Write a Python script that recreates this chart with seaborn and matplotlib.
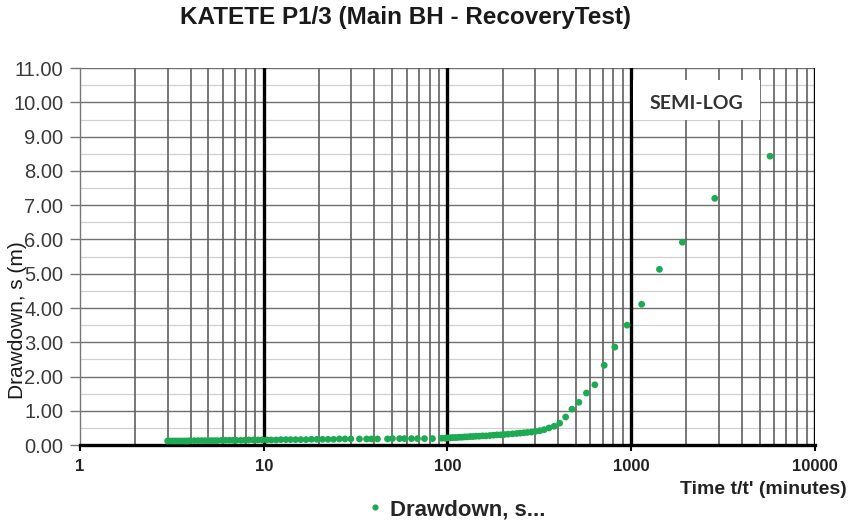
import numpy as np
import pandas as pd
import matplotlib
matplotlib.use("Agg")
import matplotlib.pyplot as plt
import seaborn as sns
from matplotlib.ticker import FixedLocator, NullFormatter
from matplotlib.patches import Rectangle
from matplotlib.lines import Line2D

# Recovery test readings: t/t' ratio (minutes) and residual drawdown s (m)
time_ratio = [
    3.0, 3.1, 3.2, 3.3, 3.4, 3.5, 3.6, 3.7, 3.8, 3.9, 4.0, 4.2, 4.4, 4.6, 4.8,
    5.0, 5.2, 5.4, 5.6, 5.9, 6.2, 6.5, 6.8, 7.1, 7.5, 7.9, 8.3, 8.8, 9.3, 9.8,
    10.4, 11.0, 11.7, 12.4, 13.2, 14.0, 14.9, 15.9, 17.0, 18.2, 19.5, 20.9,
    22.4, 24.0, 25.8, 27.7, 29.8,
    33.2, 36.3, 38.6, 41.6, 47.2, 50.2, 54.9, 58.4, 63.7, 68.7, 75.0, 82.9, 92.8,
    97, 100, 103, 106, 109, 112, 116, 120, 124, 128, 133, 138, 143, 149, 155,
    162, 170, 178, 186, 195, 204, 214, 226, 238, 249, 260, 272, 286, 301, 318,
    336, 357, 381, 408, 440, 476, 519, 571, 634, 713, 815, 950, 1140, 1425,
    1900, 2850, 5700,
]
drawdown = [
    0.12, 0.12, 0.12, 0.12, 0.12, 0.12, 0.12, 0.12, 0.12, 0.12, 0.13, 0.13, 0.13, 0.13, 0.13,
    0.13, 0.13, 0.13, 0.13, 0.14, 0.14, 0.14, 0.14, 0.14, 0.14, 0.14, 0.15, 0.15, 0.15, 0.15,
    0.15, 0.15, 0.15, 0.16, 0.16, 0.16, 0.16, 0.16, 0.16, 0.17, 0.17, 0.17,
    0.17, 0.17, 0.18, 0.18, 0.18,
    0.18, 0.18, 0.18, 0.18, 0.18, 0.19, 0.19, 0.19, 0.19, 0.19, 0.19, 0.19, 0.20,
    0.20, 0.21, 0.21, 0.22, 0.22, 0.22, 0.23, 0.23, 0.24, 0.24, 0.25, 0.25, 0.26, 0.26, 0.27,
    0.27, 0.28, 0.29, 0.30, 0.30, 0.31, 0.32, 0.33, 0.34, 0.35, 0.36, 0.37, 0.38, 0.40, 0.42,
    0.45, 0.50, 0.55, 0.64, 0.82, 1.05, 1.25, 1.52, 1.76, 2.33, 2.86, 3.50, 4.11, 5.13,
    5.92, 7.20, 8.43,
]

series_name = "Drawdown, s..."
title_text = "KATETE P1/3 (Main BH - RecoveryTest)"
x_label = "Time t/t' (minutes)"
y_label = "Drawdown, s (m)"
y_ticks = [0, 1, 2, 3, 4, 5, 6, 7, 8, 9, 10, 11]
x_ticks = [1, 10, 100, 1000, 10000]

df = pd.DataFrame({"t_ratio": time_ratio, "s": drawdown, "series": series_name})

sns.set_style("white")
plt.rcParams["font.family"] = ["Liberation Sans", "DejaVu Sans"]

fig = plt.figure(figsize=(8.48, 5.2), dpi=100)
ax = fig.add_axes([0.0943, 0.144, 0.8667, 0.725])

green = "#1daa52"
sns.scatterplot(data=df, x="t_ratio", y="s", hue="series", palette=[green],
                s=24, edgecolor="none", ax=ax, legend=False, zorder=5)

ax.set_xscale("log")
ax.set_xlim(1, 10000)
ax.set_ylim(0, 11)

# horizontal grid: whole metres dark, half metres light
for v in np.arange(0.5, 11, 1.0):
    ax.axhline(v, color="#d0d0d0", lw=0.9, zorder=1)
for v in y_ticks[1:]:
    ax.axhline(v, color="#707070", lw=1.0, zorder=1)

# vertical grid: intermediate log lines grey, decades black
for dec in [1, 10, 100, 1000]:
    for m in range(2, 10):
        ax.axvline(dec * m, color="#606060", lw=1.2, zorder=2)
for dec in [10, 100, 1000, 10000]:
    ax.axvline(dec, color="black", lw=2.4, zorder=3)

ax.yaxis.set_major_locator(FixedLocator(y_ticks))
ax.set_yticklabels([f"{v:.2f}" for v in y_ticks])
ax.xaxis.set_major_locator(FixedLocator(x_ticks))
ax.xaxis.set_minor_formatter(NullFormatter())
ax.xaxis.set_minor_locator(FixedLocator([]))
ax.set_xticklabels([str(v) for v in x_ticks])

ax.tick_params(axis="y", direction="out", length=7, width=1, color="#777777",
               labelsize=14.5, labelcolor="#3a3a3a", pad=5, left=True)
ax.tick_params(axis="x", direction="out", length=4, width=1.5, color="black",
               labelsize=12, pad=6, bottom=True)
for lab in ax.get_xticklabels():
    lab.set_fontweight("bold")
    lab.set_color("#222222")

for side in ["top", "right"]:
    ax.spines[side].set_visible(False)
ax.spines["left"].set_color("#777777")
ax.spines["left"].set_linewidth(1.0)
ax.spines["bottom"].set_color("black")
ax.spines["bottom"].set_linewidth(2.4)
ax.spines["bottom"].set_zorder(4)

ax.set_xlabel("")
ax.set_ylabel("")
fig.text(0.021, 0.385, y_label, rotation=90, ha="center", va="center",
         fontsize=15, color="#1a1a1a")
fig.text(0.999, 0.058, x_label, ha="right", va="center", fontsize=14,
         fontweight="bold", color="#222222")
fig.text(0.478, 0.966, title_text, ha="center", va="center", fontsize=17.5,
         fontweight="bold", color="#1a1a1a")

# label box in the upper right of the plot area
ax.add_patch(Rectangle((0.752, 0.862), 0.173, 0.106, transform=ax.transAxes,
                       facecolor="white", edgecolor="none", zorder=6))
ax.text(0.839, 0.905, "SEMI-LOG", transform=ax.transAxes, ha="center",
        va="center", fontsize=14, fontweight="bold", color="#333333",
        family=["Lato", "DejaVu Sans"], zorder=7)

# legend below the plot
handle = Line2D([], [], marker="o", linestyle="none", markersize=4.5,
                markerfacecolor=green, markeredgecolor="none")
fig.legend([handle], [series_name], loc="center", bbox_to_anchor=(0.536, 0.02),
           frameon=False, prop={"size": 16, "weight": "bold"},
           handletextpad=0.2, handlelength=1.0)

fig.savefig("out.png", dpi=100)
